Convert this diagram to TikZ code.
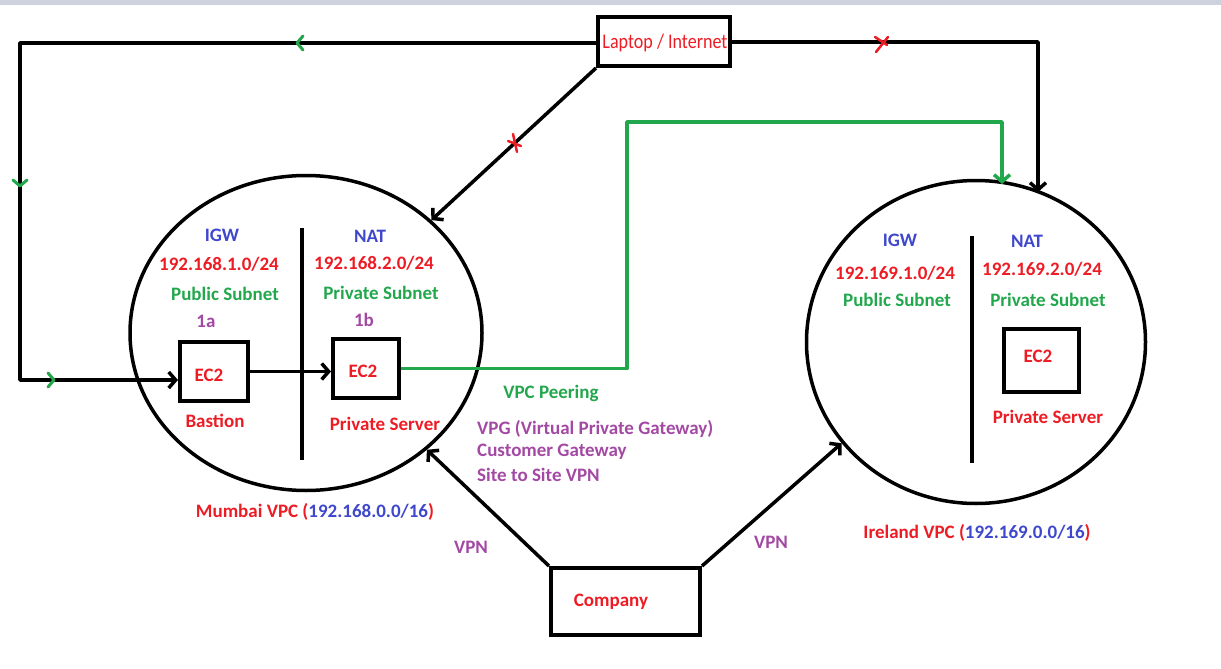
\documentclass[tikz,border=0pt]{standalone}
\usepackage{fontspec}
\setmainfont{Carlito}
\usetikzlibrary{shapes.geometric,arrows.meta}

\definecolor{pred}{RGB}{237,28,36}
\definecolor{pblue}{RGB}{63,72,204}
\definecolor{pgreen}{RGB}{34,167,76}
\definecolor{ppurple}{RGB}{163,73,164}
\definecolor{topbar}{RGB}{206,209,222}

\tikzset{
  lbl/.style={font=\bfseries\fontsize{19}{22}\selectfont, inner sep=0pt},
  box/.style={draw, line width=4pt, inner sep=0pt},
  vpc/.style={ellipse, draw, line width=3.5pt, inner sep=0pt},
  wire/.style={line width=3.5pt, line join=round},
  tip/.style={-{Straight Barb[length=7pt,width=16pt,line width=3.5pt]}},
  chevron/.pic={\draw[pgreen, line width=3pt, line cap=round, line join=round] (-6,-7) -- (0,0) -- (-6,7);}
}

\begin{document}
\begin{tikzpicture}[x=1pt,y=-1pt]
    \useasboundingbox (0,0) rectangle (1221,669);
    \fill[topbar] (0,0) rectangle (1221,5);

    % VPCs
    \node[vpc, minimum width=352, minimum height=315] (mumbai) at (306,333) {};
    \node[vpc, minimum width=339, minimum height=323] (ireland) at (976,342) {};
    \draw[line width=3.5pt] (302,228) -- (302,460);
    \draw[line width=3.5pt] (972,236) -- (972,463);

    % Boxes
    \node[box, minimum width=132, minimum height=49] (laptop) at (664,41.5) {};
    \node[lbl, font=\fontsize{19}{22}\selectfont, pred, xscale=0.95, yscale=1.1] (laptoplbl) at (665,43) {Laptop / Internet};
    \node[box, minimum width=68, minimum height=59] (bastion) at (214,371.5) {};
    \node[box, minimum width=66, minimum height=59] (pserver) at (366,368.5) {};
    \node[box, minimum width=75, minimum height=63] (irserver) at (1041.5,360.5) {};
    \node[box, minimum width=149, minimum height=67] (company) at (625.5,601.5) {};

    % Mumbai labels
    \node[lbl, pblue] (migw) at (222,235) {IGW};
    \node[lbl, pred] (mpubip) at (219,264) {192.168.1.0/24};
    \node[lbl, pgreen] (mpub) at (225,294) {Public Subnet};
    \node[lbl, ppurple] (maz1) at (206,321) {1a};
    \node[lbl, pred] (mec2a) at (209,375) {EC2};
    \node[lbl, pred] (mbast) at (215,421) {Bastion};
    \node[lbl, pblue] (mnat) at (370,236) {NAT};
    \node[lbl, pred] (mprivip) at (374,263) {192.168.2.0/24};
    \node[lbl, pgreen] (mpriv) at (381,293) {Private Subnet};
    \node[lbl, ppurple] (maz2) at (364,320) {1b};
    \node[lbl, pred] (mec2b) at (363,371) {EC2};
    \node[lbl, pred] (mps) at (385,424) {Private Server};
    \node[lbl, pred] (mvpc) at (315,512) {Mumbai VPC (\textcolor{pblue}{192.168.0.0/16})};

    % Ireland labels
    \node[lbl, pblue] (iigw) at (900,240) {IGW};
    \node[lbl, pred] (ipubip) at (895,273) {192.169.1.0/24};
    \node[lbl, pgreen] (ipub) at (897,300) {Public Subnet};
    \node[lbl, pblue] (inat) at (1027,241) {NAT};
    \node[lbl, pred] (iprivip) at (1042,269) {192.169.2.0/24};
    \node[lbl, pgreen] (ipriv) at (1048,300) {Private Subnet};
    \node[lbl, pred] (iec2) at (1038,356) {EC2};
    \node[lbl, pred] (ips) at (1048,417) {Private Server};
    \node[lbl, pred] (ivpc) at (977,533) {Ireland VPC (\textcolor{pblue}{192.169.0.0/16})};

    % Middle labels
    \node[lbl, pgreen] (peering) at (551,393) {VPC Peering};
    \node[lbl, ppurple, anchor=west] (vpg) at (477,429) {VPG (Virtual Private Gateway)};
    \node[lbl, ppurple, anchor=west] (cgw) at (477,452) {Customer Gateway};
    \node[lbl, ppurple, anchor=west] (s2s) at (477,475) {Site to Site VPN};
    \node[lbl, ppurple] (vpnl) at (471,547) {VPN};
    \node[lbl, ppurple] (vpnr) at (771,542) {VPN};
    \node[lbl, pred] (companylbl) at (611,602) {Company};

    % Corners
    \coordinate (nw) at (20,43);
    \coordinate (sw) at (20,380);
    \coordinate (ne) at (1038,42);
    \coordinate (irtop) at (1038,192);
    \coordinate (gup) at (627,122);
    \coordinate (gright) at (1002,122);
    \coordinate (girtop) at (1002,184);

    % Internet paths
    \draw[wire, tip] (laptop.west |- nw) -- (nw) -- (sw) -- (sw -| bastion.west);
    \draw[wire, tip] (laptop.east |- ne) -- (ne) -- (irtop);
    \draw[wire, tip] (laptop.south west) -- (mumbai.42);
    \draw[wire, tip] (bastion.east) -- (bastion.east -| pserver.west);

    % Peering
    \draw[wire, pgreen, tip] (pserver.east) -- (pserver.east -| gup) -- (gup) -- (gright) -- (girtop);

    % VPN
    \draw[wire, tip] (company.north west) -- (mumbai.-44);
    \draw[wire, tip] (company.north east) -- (ireland.217);

    % Direction marks
    \pic[rotate=180] at (297,43) {chevron};
    \pic[rotate=-90] at (20,186) {chevron};
    \pic at (54,380) {chevron};

    % Blocked marks
    \draw[pred, line width=2.5pt, line cap=round] (876,52) -- (888,37) (875,37) -- (887,45);
    \draw[pred, line width=2.5pt, line cap=round] (513,134) -- (517,152) (508,141) -- (521,146);
\end{tikzpicture}
\end{document}
